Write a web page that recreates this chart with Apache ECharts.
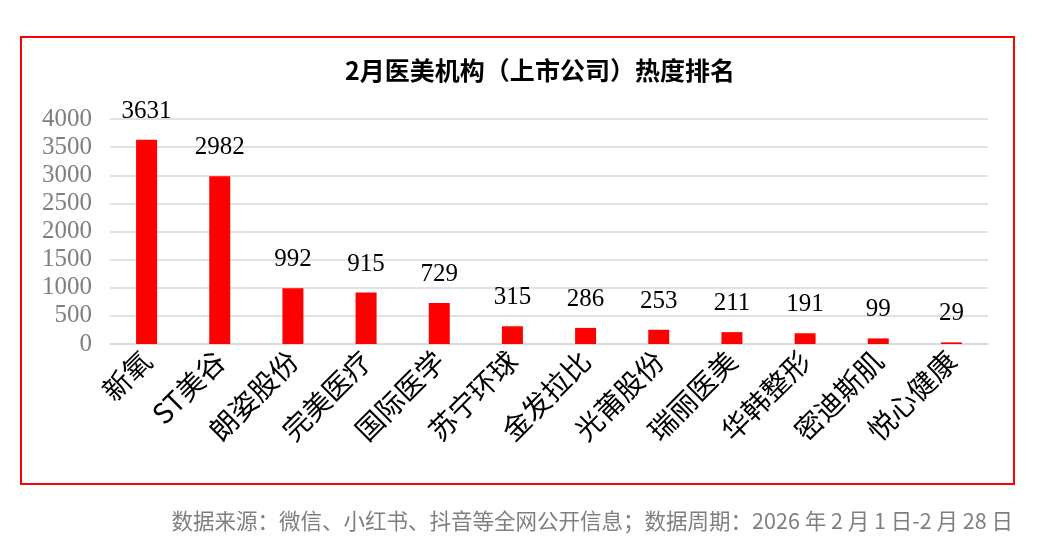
<!DOCTYPE html>
<html><head><meta charset="utf-8">
<script src="https://cdn.jsdelivr.net/npm/echarts@6/dist/echarts.min.js"></script>
<style>html,body{margin:0;padding:0;background:#fff}#c{width:1040px;height:560px}</style>
</head><body><div id="c"></div>
<script>
const categories = ['新氧','ST美谷','朗姿股份','完美医疗','国际医学','苏宁环球','金发拉比','光莆股份','瑞丽医美','华韩整形','密迪斯肌','悦心健康'];
const values = [3631,2982,992,915,729,315,286,253,211,191,99,29];
const yTicks = [0,500,1000,1500,2000,2500,3000,3500,4000];
const titleText = '2月医美机构（上市公司）热度排名';
const footerText = '数据来源：微信、小红书、抖音等全网公开信息；数据周期：2026 年 2 月 1 日-2 月 28 日';
const serif = '"Liberation Serif","DejaVu Serif","Noto Sans CJK SC",serif';
const chart = echarts.init(document.getElementById('c'));
chart.setOption({
  animation:false,
  graphic:[
    {type:'rect',shape:{x:21,y:37,width:993,height:447},style:{fill:'none',stroke:'#ff0000',lineWidth:2}},
    {type:'text',x:540,y:70,style:{text:titleText,fill:'#000',align:'center',verticalAlign:'middle',font:'bold 25px "Noto Sans CJK SC", serif'}},
    {type:'text',right:27,top:510,style:{text:footerText,fill:'#7f7f7f',font:'21.5px "Noto Sans CJK SC", sans-serif'}}
  ],
  grid:{left:110,right:52,top:119,bottom:216,containLabel:false},
  xAxis:{type:'category',data:categories,
    axisLine:{lineStyle:{color:'#d9d9d9',width:1.5}},axisTick:{show:false},
    axisLabel:{rotate:45,interval:0,margin:12,color:'#000',fontSize:28,fontFamily:'"Noto Sans CJK SC",serif'}},
  yAxis:{type:'value',min:0,max:4000,interval:500,
    axisLine:{show:false},axisTick:{show:false},
    splitLine:{lineStyle:{color:'#d9d9d9',width:1.5}},
    axisLabel:{color:'#7f7f7f',fontSize:25,fontFamily:serif,margin:18,
      formatter:v=>yTicks.includes(v)?String(v):''}},
  series:[{type:'bar',data:values,barWidth:21,itemStyle:{color:'#ff0000'},
    label:{show:true,position:'top',distance:16,color:'#000',fontSize:25,fontFamily:serif}}]
});
</script></body></html>
